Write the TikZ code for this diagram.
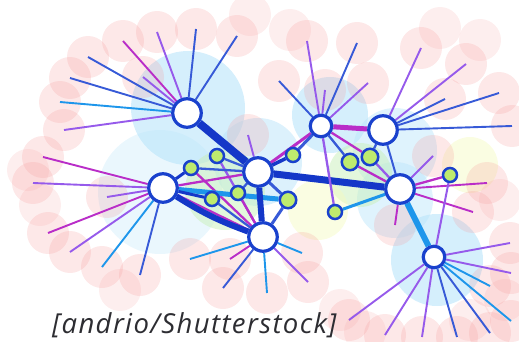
\documentclass[tikz,border=0pt]{standalone}
\usepackage{fontspec}
\setsansfont{Open Sans}
\definecolor{hubblue}{RGB}{25,65,205}
\definecolor{deepblue}{RGB}{20,55,200}
\definecolor{cyanb}{RGB}{30,150,235}
\definecolor{vio}{RGB}{150,90,235}
\definecolor{mag}{RGB}{185,45,200}
\definecolor{lblue}{RGB}{55,90,215}
\definecolor{limeg}{RGB}{190,235,110}
\definecolor{pinkc}{RGB}{245,150,150}
\definecolor{skyc}{RGB}{185,228,250}
\definecolor{mintc}{RGB}{200,240,185}
\definecolor{lemonc}{RGB}{245,250,190}
\pgfdeclarelayer{halo}
\pgfdeclarelayer{links}
\pgfsetlayers{halo,links,main}
\begin{document}
\begin{tikzpicture}[x=1pt,y=-1pt,
  hub/.style={circle,draw=hubblue,line width=3.2pt,fill=white,minimum size=28.5pt,inner sep=0pt},
  minihub/.style={hub,minimum size=21.5pt},
  dot/.style={circle,draw=hubblue,line width=2.5pt,fill=limeg,minimum size=14pt,inner sep=0pt},
  bigdot/.style={dot,minimum size=16.5pt},
  leaf/.style={line width=1.9pt},
  link/.style={line width=2.3pt},
  trunk/.style={line width=7pt,draw=deepblue},
  pinkhalo/.style={fill=pinkc,fill opacity=0.22},
  skyhalo/.style={fill=skyc,fill opacity=0.6},
  minthalo/.style={fill=mintc,fill opacity=0.5},
  lemonhalo/.style={fill=lemonc,fill opacity=0.45}]
\useasboundingbox (0,0) rectangle (519,342);

% soft group halos
\begin{pgfonlayer}{halo}
  \fill[skyhalo,fill opacity=0.3] (160,192) circle (62);
  \fill[skyhalo] (188,108) circle (57);
  \fill[skyhalo,fill opacity=0.5] (258,162) circle (44);
  \fill[skyhalo] (330,115) circle (38);
  \fill[skyhalo,fill opacity=0.45] (395,150) circle (42);
  \fill[skyhalo] (437,260) circle (46);
  \fill[skyhalo,fill opacity=0.45] (395,200) circle (38);
  \fill[minthalo] (225,190) circle (40);
  \fill[minthalo] (360,175) circle (32);
  \fill[lemonhalo] (318,210) circle (30);
  \fill[lemonhalo] (470,165) circle (28);
\end{pgfonlayer}

% hubs
\node[hub] (A) at (187,113) {};
\node[hub] (B) at (163,188) {};
\node[hub] (C) at (258,172) {};
\node[hub] (D) at (263,237) {};
\node[minihub] (E) at (321,126) {};
\node[hub] (F) at (383,130) {};
\node[hub] (G) at (400,189) {};
\node[minihub] (H) at (434,257) {};

% small green members
\node[dot] (g1) at (217,156) {};
\node[dot] (g2) at (191,168) {};
\node[dot] (g3) at (212,199) {};
\node[dot] (g4) at (238,193) {};
\node[bigdot] (g5) at (288,200) {};
\node[dot] (g6) at (293,155) {};
\node[bigdot] (g7) at (350,162) {};
\node[bigdot] (g8) at (370,157) {};
\node[dot] (g9) at (335,212) {};
\node[dot] (g10) at (450,175) {};

% leaves of every hub, each with its pink halo
\foreach \h/\list in {
  A/{157/32/vio,196/29/lblue,237/36/lblue,123/41/mag,88/57/lblue,70/78/lblue,60/102/cyanb,64/130/vio,143/77/vio},
  B/{43/157/mag,33/183/vio,107/197/vio,48/233/mag,70/252/vio,102/267/cyanb,140/275/lblue},
  C/{248/135/vio},
  D/{190/259/cyanb,230/259/mag,223/288/lblue,267/293/cyanb,308/282/vio,302/253/cyanb},
  E/{279/81/lblue,307/41/vio,325/90/vio,357/43/lblue,368/83/vio},
  F/{421/48/vio,466/64/vio,445/99/lblue,499/93/lblue,512/126/lblue},
  G/{433/156/vio,473/212/mag,395/225/mag,487/183/mag},
  H/{510/243/vio,511/273/vio,490/286/cyanb,511/321/cyanb,490/333/lblue,457/337/lblue,422/337/vio,385/335/vio,349/320/vio}}{
  \foreach \x/\y/\c [count=\i] in \list {
    \coordinate (\h\i) at (\x,\y);
    \begin{pgfonlayer}{halo}
      \fill[pinkhalo] (\h\i) circle (21);
    \end{pgfonlayer}
    \begin{pgfonlayer}{links}
      \draw[leaf,draw=\c] (\h) -- (\h\i);
    \end{pgfonlayer}
  }
}

% extra pink halos along the rim
\begin{pgfonlayer}{halo}
  \foreach \x/\y in {28/170,40/205,120/290,340/310,365/332,470/320,505/300,500/200,480/40,440/28,290/30,250/15}
    \fill[pinkhalo,fill opacity=0.16] (\x,\y) circle (21);
\end{pgfonlayer}

% links between members
\begin{pgfonlayer}{links}
  \draw[link,draw=mag] (B) -- (D);
  \draw[link,draw=mag] (g2) -- (D);
  \draw[link,draw=vio] (g1) -- (D);
  \draw[link,draw=mag] (g4) -- (D);
  \draw[link,draw=lblue] (g3) -- (D);
  \draw[link,draw=mag] (B) -- (C);
  \draw[link,draw=lblue] (g2) -- (C);
  \draw[link,draw=lblue] (g1) -- (C);
  \draw[link,draw=lblue] (C) -- (g4);
  \draw[link,draw=lblue,line width=3pt] (C) -- (g5);
  \draw[link,draw=lblue,line width=3pt] (g5) -- (D);
  \draw[line width=5pt,draw=cyanb] (B) -- (g5);
  \draw[link,draw=deepblue,line width=3pt] (B) -- (g2);
  \draw[link,draw=deepblue,line width=3pt] (B) -- (g3);
  \draw[trunk,line width=6pt] (B) to[bend right=6] (D);
  \draw[trunk,line width=6pt] (C) -- (D);
  \draw[trunk,line width=8pt] (A) -- (C);
  \draw[trunk] (C) -- (G);
  \draw[link,draw=mag,line width=3pt] (C) -- (E);
  \draw[link,draw=deepblue,line width=3.5pt] (C) -- (g6);
  \draw[link,draw=lblue,line width=3pt] (g6) -- (E);
  \draw[line width=5pt,draw=mag] (E) -- (F);
  \draw[link,draw=mag] (E) -- (g8);
  \draw[link,draw=lblue] (E) -- (g7);
  \draw[link,draw=lblue] (F) -- (g8);
  \draw[link,draw=mag] (g7) -- (G);
  \draw[link,draw=vio] (g8) -- (G);
  \draw[link,draw=lblue,line width=2pt] (F) -- (G);
  \draw[link,draw=vio] (E) -- (g9);
  \draw[link,draw=cyanb,line width=3pt] (g9) -- (G);
  \draw[link,draw=mag] (G) -- (g10);
  \draw[link,draw=vio,line width=2pt] (g10) -- (H);
  \draw[line width=6pt,draw=cyanb] (G) -- (H);
\end{pgfonlayer}

\node[anchor=base west,inner sep=0pt,text={rgb,255:red,45;green,45;blue,50},
  font=\sffamily\itshape\fontsize{27.5}{32}\selectfont\addfontfeatures{LetterSpace=5}]
  (credit) at (52,333) {[andrio/Shutterstock]};
\end{tikzpicture}
\end{document}
